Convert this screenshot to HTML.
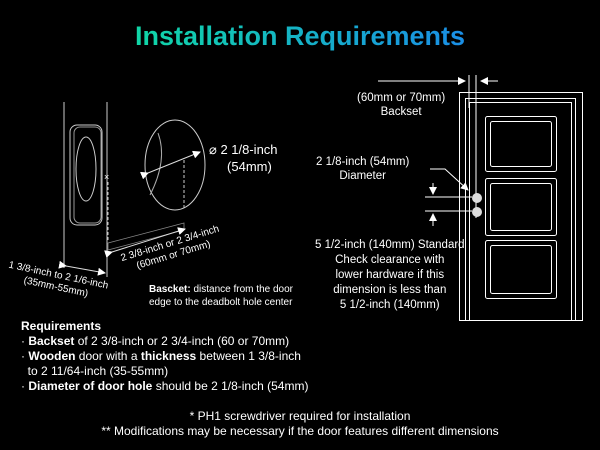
<!DOCTYPE html>
<html><head><meta charset="utf-8"><style>
body{margin:0;background:#000;width:600px;height:450px;overflow:hidden;position:relative;font-family:"Liberation Sans",sans-serif;color:#fff}
.t{position:absolute;white-space:nowrap;font-size:11.5px;line-height:14px}
.r{position:absolute;white-space:nowrap;font-size:10px;line-height:12px;text-align:center}
h1{position:absolute;left:0;width:600px;top:19px;margin:0;text-align:center;font-size:27px;font-weight:bold;line-height:34px}
h1 span{background:linear-gradient(90deg,#10d6a6,#1a8ee6);-webkit-background-clip:text;background-clip:text;color:transparent}
</style></head><body>
<h1><span>Installation Requirements</span></h1>
<svg width="600" height="450" style="position:absolute;left:0;top:0" fill="none" stroke="#fff">
<defs><marker id="a" markerWidth="8" markerHeight="8" refX="7" refY="4" orient="auto"><path d="M0,0L8,4L0,8z" fill="#fff" stroke="none"/></marker></defs>
<line x1="64" y1="102" x2="64" y2="268" stroke="#ccc"/>
<line x1="107" y1="102" x2="107" y2="277" stroke="#ccc"/>
<rect x="70" y="125" width="32" height="100" rx="7" stroke="#ccc"/>
<rect x="74" y="127" width="27" height="96" rx="6" stroke="#999"/>
<ellipse cx="86" cy="169" rx="10" ry="32" stroke="#ccc"/>
<text x="104" y="180" fill="#fff" stroke="none" font-size="9">×</text>
<line x1="108" y1="182" x2="108" y2="240" stroke="#ccc" stroke-dasharray="3,2"/>
<ellipse cx="175" cy="165" rx="30" ry="45" stroke="#ccc"/>
<path d="M158 133 Q168 160 150 195" stroke="#aaa"/>
<line x1="148" y1="173" x2="200" y2="152" marker-end="url(#a)" marker-start="url(#a)" stroke="#ddd"/>
<line x1="184" y1="160" x2="184" y2="210" stroke="#ccc" stroke-dasharray="3,2"/>
<path d="M108 243 L184 223 L184 230 L108 250z" stroke="#888" stroke-width=".8"/>
<line x1="112" y1="252" x2="185" y2="229" stroke="#ddd" marker-end="url(#a)" marker-start="url(#a)"/>
<line x1="66" y1="266" x2="105" y2="273" stroke="#ddd" marker-end="url(#a)" marker-start="url(#a)"/>
<rect x="459.5" y="92.5" width="123" height="228"/>
<rect x="465.5" y="98.5" width="110" height="222"/>
<rect x="469.5" y="102.5" width="102" height="218"/>
<rect x="485.5" y="116.5" width="71" height="55" rx="2"/><rect x="490.5" y="121.5" width="61" height="45" rx="2"/>
<rect x="485.5" y="178.5" width="71" height="57" rx="2"/><rect x="490.5" y="183.5" width="61" height="47" rx="2"/>
<rect x="485.5" y="240.5" width="71" height="58" rx="2"/><rect x="490.5" y="245.5" width="61" height="48" rx="2"/>
<line x1="469" y1="75" x2="469" y2="108"/><line x1="476" y1="75" x2="476" y2="218"/>
<line x1="378" y1="81" x2="465" y2="81" marker-end="url(#a)"/>
<line x1="498" y1="81" x2="481" y2="81" marker-end="url(#a)"/>
<circle cx="477" cy="198" r="5" fill="#ddd" stroke="none"/>
<circle cx="477" cy="212" r="5" fill="#ddd" stroke="none"/>
<path d="M430 169 L445 169 L468 190" marker-end="url(#a)"/>
<line x1="425" y1="197" x2="472" y2="197"/><line x1="425" y1="211" x2="472" y2="211"/>
<line x1="433" y1="183" x2="433" y2="194" marker-end="url(#a)"/>
<line x1="433" y1="226" x2="433" y2="214" marker-end="url(#a)"/>
</svg>
<div class="t" style="left:209px;top:141px;font-size:13px;line-height:17px">⌀ 2 1/8-inch<br>&nbsp;&nbsp;&nbsp;&nbsp;&nbsp;(54mm)</div>
<div class="r" style="left:172px;top:250px;transform:translate(-50%,-50%) rotate(-17deg)">2 3/8-inch or 2 3/4-inch<br>(60mm or 70mm)</div>
<div class="r" style="left:57px;top:282px;transform:translate(-50%,-50%) rotate(12deg)">1 3/8-inch to 2 1/6-inch<br>(35mm-55mm)</div>
<div class="t" style="left:149px;top:283px;font-size:10px;line-height:13px"><b>Bascket:</b> distance from the door<br>edge to the deadbolt hole center</div>
<div class="t" style="left:357px;top:91px;text-align:center;font-size:11.5px">(60mm or 70mm)<br>Backset</div>
<div class="t" style="left:316px;top:155px;text-align:center;font-size:11.5px">2 1/8-inch (54mm)<br>Diameter</div>
<div class="t" style="left:315px;top:238px;text-align:center;font-size:11.5px;line-height:15px">5 1/2-inch (140mm) Standard<br>Check clearance with<br>lower hardware if this<br>dimension is less than<br>5 1/2-inch (140mm)</div>
<div class="t" style="left:21px;top:319px;font-size:12px;line-height:15px"><b>Requirements</b><br>· <b>Backset</b> of 2 3/8-inch or 2 3/4-inch (60 or 70mm)<br>· <b>Wooden</b> door with a <b>thickness</b> between 1 3/8-inch<br>&nbsp;&nbsp;to 2 11/64-inch (35-55mm)<br>· <b>Diameter of door hole</b> should be 2 1/8-inch (54mm)</div>
<div class="t" style="left:0;width:600px;text-align:center;top:409px;font-size:12px;line-height:15px">* PH1 screwdriver required for installation<br>** Modifications may be necessary if the door features different dimensions</div>
</body></html>
